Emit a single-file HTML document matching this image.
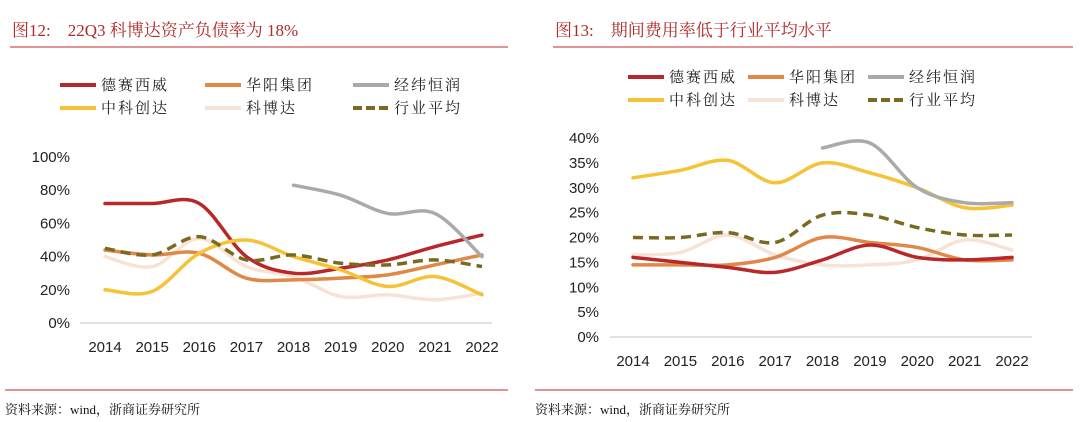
<!DOCTYPE html>
<html><head><meta charset="utf-8">
<style>
body{margin:0;background:#fff;width:1080px;height:422px;overflow:hidden}
svg{display:block}
.t{font-family:"Liberation Serif","Noto Serif CJK SC",serif;font-size:17px;fill:#b02a2a}
.lg{font-family:"Liberation Serif","Noto Serif CJK SC",serif;font-size:15px;fill:#222;letter-spacing:2px}
.ax{font-family:"Liberation Sans","Noto Sans CJK SC",sans-serif;font-size:15px;fill:#222}
.src{font-family:"Liberation Serif","Noto Serif CJK SC",serif;font-size:13px;fill:#111}
</style></head><body>
<svg id="s" width="1080" height="422">
<text class="t" x="12" y="36">图12:　22Q3 科博达资产负债率为 18%</text>
<text class="t" x="555" y="36">图13:　期间费用率低于行业平均水平</text>
<line x1="10" y1="47" x2="508" y2="47" stroke="#d87070" stroke-width="1.5"/>
<line x1="553" y1="47" x2="1073" y2="47" stroke="#d87070" stroke-width="1.5"/>
<line x1="5" y1="390" x2="508" y2="390" stroke="#d87070" stroke-width="1.5"/>
<line x1="535" y1="390" x2="1073" y2="390" stroke="#d87070" stroke-width="1.5"/>
<text class="src" x="5" y="414">资料来源：wind，浙商证券研究所</text>
<text class="src" x="535" y="414">资料来源：wind，浙商证券研究所</text>
<g id="L"></g>
<g id="R"></g>
</svg>
<script>
const years=["2014","2015","2016","2017","2018","2019","2020","2021","2022"];
const seriesNames=["德赛西威","华阳集团","经纬恒润","中科创达","科博达","行业平均"];
const colors=["#b8282a","#e08848","#aaaaaa","#f5c335","#f8e2d6","#7a6a20"];
const leftTicks=["0%","20%","40%","60%","80%","100%"];
const leftDesay=[72,72,72,40,30,33,38,46,53];
const leftHuayang=[44,41,42,27,26,27,29,35,41];
const leftJingwei=[null,null,null,null,83,77,66,66,40];
const leftZhongke=[20,19,42,50,40,32,22,28,17];
const leftKeboda=[40,34,51,34,28,16,17,14,18];
const leftAvg=[45,41,52,38,41,36,35,38,34];
const rightTicks=["0%","5%","10%","15%","20%","25%","30%","35%","40%"];
const rightDesay=[16,15,14,13,15.5,18.5,16,15.5,16];
const rightHuayang=[14.5,14.5,14.5,16,20,19,18,15.5,15.5];
const rightJingwei=[null,null,null,null,38,39,30,27,27];
const rightZhongke=[32,33.5,35.5,31,35,33,30,26,26.5];
const rightKeboda=[16.5,17,20.5,16.5,14.5,14.5,15.5,19.5,17.5];
const rightAvg=[20,20,21,19,24.5,24.5,22,20.5,20.5];
const NS="http://www.w3.org/2000/svg";
function mk(p,tag,at){const e=document.createElementNS(NS,tag);for(const k in at)e.setAttribute(k,at[k]);p.appendChild(e);return e;}
function smooth(pts){let d="M"+pts[0][0]+","+pts[0][1];for(let i=0;i<pts.length-1;i++){const p0=pts[i-1]||pts[i],p1=pts[i],p2=pts[i+1],p3=pts[i+2]||p2;const c1=[p1[0]+(p2[0]-p0[0])/6,p1[1]+(p2[1]-p0[1])/6],c2=[p2[0]-(p3[0]-p1[0])/6,p2[1]-(p3[1]-p1[1])/6];d+=" C"+c1+" "+c2+" "+p2;}return d;}
function chart(g,c){
  const x=i=>c.x0+i*(c.x1-c.x0)/(years.length-1);
  const y=v=>c.y0-(v/c.max)*(c.y0-c.y1);
  let e=mk(g,"line",{x1:c.ax0,x2:c.ax1,y1:c.y0,y2:c.y0,stroke:"#d9d9d9","stroke-width":1.5});
  
  
  c.ticks.forEach((t,i)=>{const v=i*c.max/(c.ticks.length-1);
    const te=mk(g,"text",{x:c.lx,y:y(v)+5,"text-anchor":"end",class:"ax"});te.textContent=t;
    
    });
  years.forEach((t,i)=>{const te=mk(g,"text",{x:x(i),y:c.y0+29,"text-anchor":"middle",class:"ax"});te.textContent=t;
    
    });
  const order=[4,1,0,3,2,5];
  order.forEach(k=>{const data=c.series[k];const pts=[];data.forEach((v,i)=>{if(v!==null)pts.push([x(i),y(v)]);});
    const p=mk(g,"path",{d:smooth(pts),fill:"none",stroke:colors[k],"stroke-width":3.5,"stroke-linecap":"round"});
    if(k===5){p.setAttribute("stroke-dasharray","10,6");p.setAttribute("stroke-linecap","butt");}
    
    });
  seriesNames.forEach((n,k)=>{const col=k%3,row=Math.floor(k/3);const lx=c.legX[col],ly=c.legY[row];
    const l=mk(g,"line",{x1:lx,x2:lx+36,y1:ly,y2:ly,stroke:colors[k],"stroke-width":4});
    if(k===5)l.setAttribute("stroke-dasharray","9,4");
    
    
    const te=mk(g,"text",{x:lx+41,y:ly+5,class:"lg"});te.textContent=n;
    
    });
}
chart(document.getElementById("L"),{x0:105,x1:482,y0:323,y1:157,max:100,ax0:80,ax1:492,lx:70,ticks:leftTicks,
  series:[leftDesay,leftHuayang,leftJingwei,leftZhongke,leftKeboda,leftAvg],legX:[60,205,353],legY:[85,108]});
chart(document.getElementById("R"),{x0:633,x1:1012,y0:337,y1:138,max:40,ax0:610,ax1:1032,lx:599,ticks:rightTicks,
  series:[rightDesay,rightHuayang,rightJingwei,rightZhongke,rightKeboda,rightAvg],legX:[628,748,868],legY:[77,100]});
</script>
</body></html>
